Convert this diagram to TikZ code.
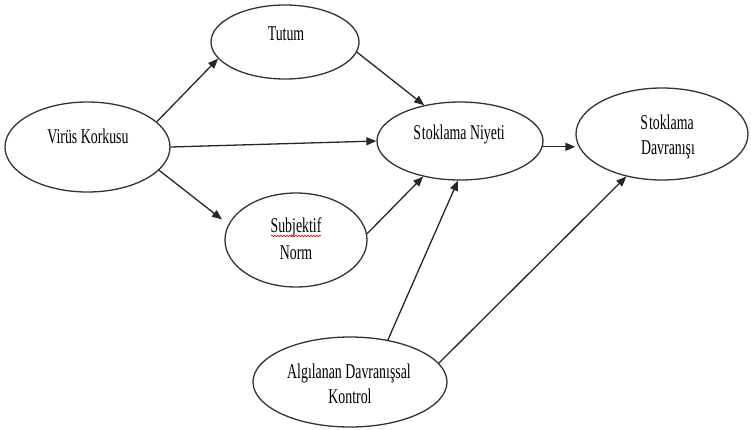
\documentclass[tikz,border=0pt]{standalone}
\usepackage{fontspec}
\usepackage{graphicx}
\setmainfont{Liberation Serif}
\usetikzlibrary{arrows.meta,shapes.geometric,decorations.pathmorphing}
% narrow, tall lettering used for all labels
\newcommand\cnd[1]{\scalebox{0.66}[1]{#1}}
\tikzset{
  oval/.style={ellipse, draw=black!80, line width=1.3pt, inner sep=0pt, fill=white},
  lbl/.style={anchor=base, inner sep=0pt, font=\fontsize{21}{24}\selectfont},
  link/.style={draw=black!85, line width=1.3pt, -{Triangle[length=10pt,width=8pt]}},
  plain/.style={draw=black!85, line width=1.3pt}
}
\begin{document}
\begin{tikzpicture}[x=1pt,y=-1pt]
\useasboundingbox (0,0) rectangle (751,429);

% constructs
\node[oval, minimum width=148pt, minimum height=74pt] (tutum) at (285,42) {};
\node[oval, minimum width=165pt, minimum height=90pt] (virus) at (87.5,147) {};
\node[oval, minimum width=166pt, minimum height=78pt] (niyet) at (460,141) {};
\node[oval, minimum width=172pt, minimum height=92pt] (davr) at (662,134) {};
\node[oval, minimum width=142pt, minimum height=94pt] (subj) at (296,240) {};
\node[oval, minimum width=194pt, minimum height=90pt] (algi) at (350,382) {};

% labels
\node[lbl] (tTutum) at (286,40) {\cnd{Tutum}};
\node[lbl] (tVirus) at (88,143) {\cnd{Virüs Korkusu}};
\node[lbl] (tNiyet) at (459,139) {\cnd{S\kern1.5pt toklama Niyeti}};
\node[lbl] (tDavr1) at (667,129) {\cnd{S\kern1.5pt toklama}};
\node[lbl] (tDavr2) at (668,154) {\cnd{Davranışı}};
\node[lbl] (tSubj1) at (296,232) {\cnd{Subjektif}};
\node[lbl] (tSubj2) at (296,259) {\cnd{Norm}};
\node[lbl] (tAlgi1) at (349,378) {\cnd{Algılanan Davranışsal}};
\node[lbl] (tAlgi2) at (350,403) {\cnd{Kontrol}};

% spell-check squiggle under "Subjektif"
\draw[red!85!black, line width=0.6pt, decorate,
      decoration={snake, amplitude=0.8pt, segment length=3pt}]
  (271,236) -- (321,236);

% paths
\draw[link] (virus.20) -- (tutum.194);
\draw[link] (tutum.-8) -- (niyet.135);
\draw[link] (virus.0) -- (niyet.180);
\draw[link, shorten >=8pt] (virus.-18) -- (subj.167);
\draw[link] (subj.5) -- (niyet.224);
\draw[link] (niyet.-4) -- (niyet.-4 -| davr.west);
\draw[link] (algi.48) -- (niyet.267);
\draw[link] (algi.12) -- (davr.230);
\end{tikzpicture}
\end{document}
